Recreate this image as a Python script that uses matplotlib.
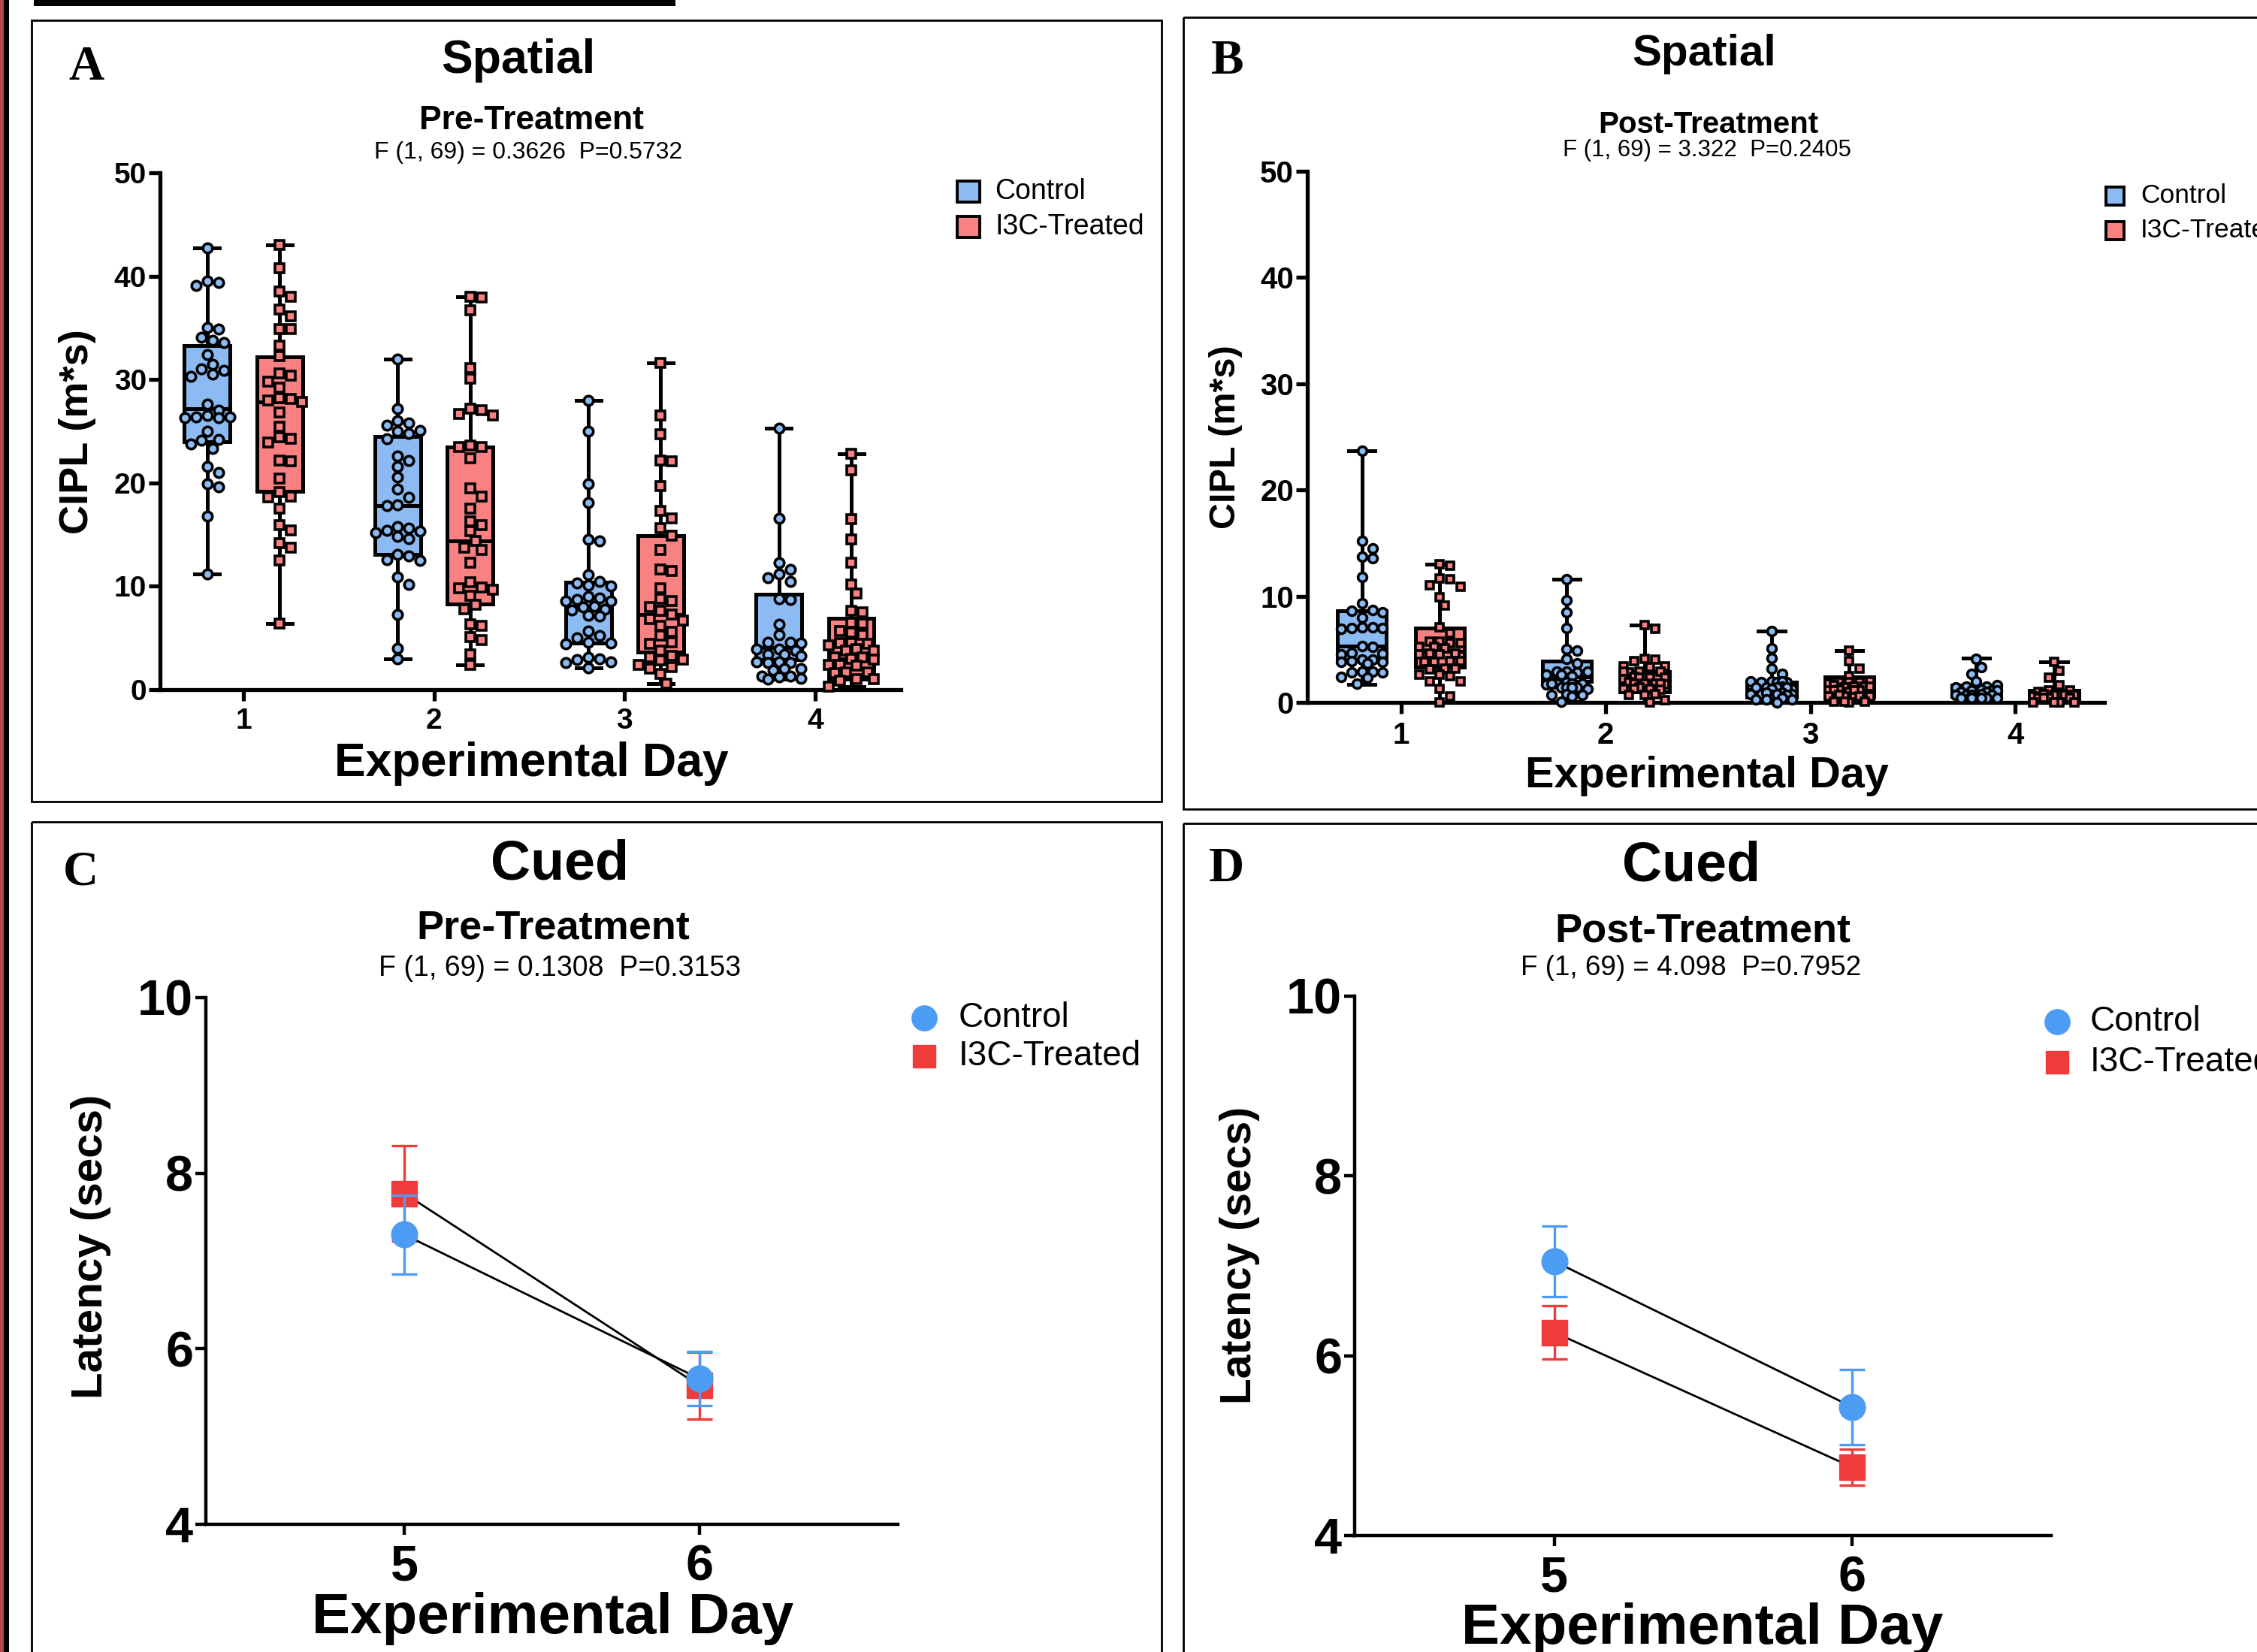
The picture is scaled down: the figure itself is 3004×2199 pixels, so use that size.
import numpy as np
import matplotlib
matplotlib.use("Agg")
import matplotlib.pyplot as plt
from matplotlib.patches import Rectangle

plt.rcParams['font.family'] = ['Liberation Sans', 'DejaVu Sans']

W, H = 3004, 2199

# ---------------- DATA ----------------
days_spatial = [1, 2, 3, 4]
days_cued = [5, 6]
groups = ["Control", "I3C-Treated"]

# Panel A (Spatial, Pre-Treatment) individual values
a_ctrl_d1 = [42.7, 39.5, 39.4, 39.1, 35.0, 34.9, 34.1, 33.8, 33.6, 32.4, 31.5, 31.0, 30.9, 30.5, 30.3,
             27.6, 27.0, 26.5, 26.4, 26.4, 26.3, 26.3, 25.0, 24.2, 24.1, 23.8, 23.3, 21.6, 21.0, 19.9,
             19.6, 16.8, 11.2]
a_trt_d1 = [43.0, 40.8, 38.5, 38.0, 36.8, 36.1, 34.9, 34.9, 33.3, 32.3, 30.6, 30.4, 29.8, 29.2, 28.2,
            28.1, 28.0, 27.8, 26.8, 25.4, 24.4, 24.3, 23.9, 22.2, 22.1, 20.4, 19.1, 18.7, 18.6, 17.5,
            15.9, 15.4, 14.2, 13.7, 12.5, 6.4]
a_ctrl_d2 = [32.0, 27.2, 26.0, 25.8, 25.6, 25.1, 25.0, 24.8, 24.3, 22.6, 22.2, 21.6, 20.6, 19.4, 18.6,
             17.9, 17.8, 15.8, 15.6, 15.4, 15.3, 15.2, 14.8, 14.6, 13.1, 12.9, 12.6, 12.5, 10.9, 10.2,
             7.3, 4.0, 3.0]
a_trt_d2 = [38.0, 37.9, 36.7, 31.1, 30.1, 27.2, 27.0, 26.7, 26.5, 23.6, 23.5, 23.5, 22.4, 19.5, 18.7,
            17.5, 16.3, 15.9, 15.3, 14.4, 13.7, 13.5, 12.3, 10.4, 9.9, 9.8, 9.7, 9.1, 8.2, 7.8,
            6.3, 6.2, 5.1, 4.8, 3.4, 2.4]
a_ctrl_d3 = [28.0, 25.0, 19.9, 18.1, 14.5, 14.4, 11.1, 10.5, 10.3, 10.1, 10.0, 9.0, 8.9, 8.7, 8.6,
             8.6, 8.1, 8.0, 7.8, 7.7, 7.2, 7.1, 5.7, 5.2, 5.0, 4.6, 4.5, 4.4, 3.1, 3.0,
             2.9, 2.7, 2.6, 2.1]
a_trt_d3 = [31.6, 26.5, 24.7, 22.2, 22.1, 19.7, 17.3, 16.6, 15.6, 14.9, 13.5, 11.6, 11.5, 9.8, 8.8,
            8.6, 8.0, 7.6, 7.3, 6.8, 6.7, 6.2, 5.6, 5.2, 4.6, 4.4, 3.8, 3.3, 3.1, 2.9,
            2.8, 2.4, 2.2, 2.0, 1.5, 0.6]
a_ctrl_d4 = [25.3, 16.6, 12.3, 11.6, 11.2, 10.8, 10.5, 8.8, 8.7, 6.3, 5.3, 4.6, 4.6, 4.5, 3.9,
             3.9, 3.8, 3.4, 3.4, 3.3, 2.7, 2.7, 2.6, 2.6, 2.0, 2.0, 1.9, 1.3, 1.3, 1.2,
             1.1, 1.0]
a_trt_d4 = [22.8, 21.2, 16.5, 14.5, 12.3, 10.2, 9.3, 7.6, 7.5, 6.5, 6.4, 5.7, 5.5, 5.3, 4.5,
            4.5, 4.4, 4.3, 3.9, 3.8, 3.8, 3.1, 3.1, 3.0, 2.9, 2.4, 2.4, 2.3, 1.7, 1.7,
            1.6, 1.0, 1.0, 0.9, 0.3]

# Panel A box statistics per day: min, q1, median, q3, max
a_ctrl_min = [11.2, 3.0, 2.1, 1.0]
a_ctrl_q1 = [24.0, 13.1, 4.5, 2.9]
a_ctrl_med = [27.2, 17.8, 8.1, 4.1]
a_ctrl_q3 = [33.3, 24.5, 10.4, 9.25]
a_ctrl_max = [42.7, 32.0, 28.0, 25.3]
a_trt_min = [6.4, 2.4, 0.6, 0.3]
a_trt_q1 = [19.2, 8.3, 3.6, 1.0]
a_trt_med = [27.8, 14.4, 7.3, 3.0]
a_trt_q3 = [32.2, 23.5, 14.9, 6.9]
a_trt_max = [43.0, 38.0, 31.6, 22.8]

# Panel B (Spatial, Post-Treatment) individual values
b_ctrl_d1 = [23.7, 15.2, 14.5, 13.7, 13.6, 11.8, 9.3, 8.7, 8.6, 8.5, 8.0, 7.1, 7.1, 7.0, 7.0,
             6.9, 5.3, 5.2, 4.7, 4.6, 4.5, 4.0, 4.0, 3.9, 3.8, 3.8, 3.7, 2.9, 2.9, 2.8,
             2.8, 2.4, 2.3, 1.8]
b_trt_d1 = [13.0, 12.9, 11.7, 11.6, 11.0, 10.9, 9.9, 9.1, 7.1, 6.5, 5.7, 5.7, 5.6, 5.6, 5.2,
            5.2, 5.1, 4.6, 4.6, 4.5, 4.5, 3.9, 3.9, 3.8, 3.8, 3.2, 3.2, 3.1, 2.6, 2.6,
            2.5, 2.0, 2.0, 1.3, 0.6, 0.0]
b_ctrl_d2 = [11.6, 9.6, 8.5, 7.0, 5.0, 4.9, 4.1, 3.7, 2.9, 2.9, 2.8, 2.9, 2.6, 2.6, 2.5,
             1.8, 1.8, 1.9, 1.7, 1.8, 1.8, 1.4, 1.4, 1.3, 1.4, 1.4, 0.7, 0.7, 0.8, 0.6, 0.1]
b_trt_d2 = [7.3, 6.9, 4.1, 4.0, 3.9, 3.4, 3.4, 3.3, 2.9, 2.9, 2.8, 2.9, 2.3, 2.3, 2.4,
            2.2, 2.3, 1.8, 1.8, 1.9, 1.7, 1.8, 1.8, 1.3, 1.3, 1.4, 1.2, 1.3, 0.7, 0.7,
            0.8, 0.2, 0.0]
b_ctrl_d3 = [6.7, 5.1, 4.2, 3.2, 2.7, 2.0, 1.9, 1.9, 2.0, 1.9, 2.0, 1.4, 1.4, 1.3, 1.5,
             1.4, 1.4, 1.3, 0.8, 0.8, 0.9, 0.7, 0.8, 0.8, 0.9, 0.7, 0.3, 0.3, 0.4, 0.3, 0.0]
b_trt_d3 = [4.9, 3.9, 3.2, 2.5, 1.9, 1.9, 2.0, 1.8, 1.9, 1.5, 1.5, 1.4, 1.6, 1.5, 1.1,
            1.1, 1.0, 1.2, 1.1, 1.1, 0.6, 0.6, 0.5, 0.7, 0.6, 0.6, 0.1, 0.1, 0.0, 0.1]
b_ctrl_d4 = [4.1, 3.3, 2.7, 1.95, 1.5, 1.5, 1.6, 1.4, 1.1, 1.1, 1.0, 1.2, 1.1, 1.1, 1.0,
             0.7, 0.7, 0.8, 0.6, 0.7, 0.7, 0.4, 0.4, 0.4, 0.4, 0.4]
b_trt_d4 = [3.8, 3.0, 2.3, 1.6, 1.1, 1.1, 1.0, 0.7, 0.7, 0.8, 0.6, 0.7, 0.7, 0.4, 0.4,
            0.4, 0.4, 0.0, 0.0, 0.0, 0.0]

b_ctrl_min = [1.7, 0.1, 0.0, 0.4]
b_ctrl_q1 = [4.0, 2.0, 0.5, 0.6]
b_ctrl_med = [5.3, 2.4, 1.2, 1.0]
b_ctrl_q3 = [8.6, 3.9, 1.9, 1.6]
b_ctrl_max = [23.7, 11.6, 6.7, 4.2]
b_trt_min = [0.0, 0.0, 0.0, 0.0]
b_trt_q1 = [3.3, 1.0, 0.5, 0.2]
b_trt_med = [4.8, 1.7, 1.1, 0.6]
b_trt_q3 = [7.0, 2.9, 2.4, 1.1]
b_trt_max = [13.0, 7.3, 4.9, 3.8]

# Panels C and D (Cued): mean latency and SEM
c_ctrl_mean = [7.30, 5.66]
c_ctrl_sem = [0.45, 0.31]
c_trt_mean = [7.77, 5.58]
c_trt_sem = [0.54, 0.38]
d_ctrl_mean = [7.05, 5.43]
d_ctrl_sem = [0.39, 0.42]
d_trt_mean = [6.26, 4.76]
d_trt_sem = [0.30, 0.20]

stats_A = "F (1, 69) = 0.3626  P=0.5732"
stats_B = "F (1, 69) = 3.322  P=0.2405"
stats_C = "F (1, 69) = 0.1308  P=0.3153"
stats_D = "F (1, 69) = 4.098  P=0.7952"

# ---------------- STYLE ----------------
BOX_BLUE = "#8cbaf3"
BOX_RED = "#f98181"
PT_BLUE = "#4d9cf3"
PT_RED = "#f03b3b"

fig = plt.figure(figsize=(W / 100, H / 100), dpi=100)
fig.patch.set_facecolor("white")

ov = fig.add_axes([0, 0, 1, 1], zorder=0)
ov.set_xlim(0, W)
ov.set_ylim(H, 0)
ov.axis("off")


def rect_px(x0, y0, x1, y1):
    return [x0 / W, 1 - y1 / H, (x1 - x0) / W, (y1 - y0) / H]


# decoration: left border, top bar, panel frames
ov.add_patch(Rectangle((0, 0), 5, H, color="#b5484a", lw=0, clip_on=False))
ov.add_patch(Rectangle((5, 0), 7, H, color="black", lw=0, clip_on=False))
ov.add_patch(Rectangle((45, 0), 854, 8, color="black", lw=0, clip_on=False))
for (x0, y0, x1, y1) in [(42, 27, 1546, 1067), (1575, 23, 3040, 1077),
                         (42, 1094, 1546, 2240), (1575, 1096, 3040, 2240)]:
    ov.add_patch(Rectangle((x0, y0), x1 - x0, y1 - y0, fill=False, ec="black", lw=2.0, clip_on=False))


def swarm(vals, xpx, ypx, diam, maxw):
    placed = []
    offs = []
    step = diam * 0.55
    kmax = int(maxw * xpx / step)
    cands = [0.0]
    for k in range(1, kmax + 1):
        cands += [k * step, -k * step]
    for v in vals:
        y = v * ypx
        best, bestd = 0.0, -1
        for c in cands:
            if placed:
                d = min(np.hypot(c - p[0], y - p[1]) for p in placed)
            else:
                d = 1e9
            if d >= diam:
                best = c
                break
            if d > bestd:
                bestd, best = d, c
        placed.append((best, y))
        offs.append(best / xpx)
    return offs


def style_axes(ax, lw, tl, tfs, xpad, ypad, xtl=None):
    for s in ["top", "right"]:
        ax.spines[s].set_visible(False)
    for s in ["left", "bottom"]:
        ax.spines[s].set_linewidth(lw)
    ax.patch.set_alpha(0)
    ax.tick_params(axis="both", direction="out", width=lw, length=tl, labelsize=tfs)
    ax.tick_params(axis="x", pad=xpad, length=xtl if xtl else tl)
    ax.tick_params(axis="y", pad=ypad)
    for lab in ax.get_xticklabels() + ax.get_yticklabels():
        lab.set_fontweight("bold")


def spatial_panel(rect, xlim, ctrl_vals, trt_vals, cst, tst, xpx, ypx, diam, ms_c, ms_s):
    ax = fig.add_axes(rect, zorder=2)
    ax.set_xlim(*xlim)
    ax.set_ylim(0, 50)
    for vals_list, st, off, face, mk, ms in [(ctrl_vals, cst, -0.19, BOX_BLUE, "o", ms_c),
                                               (trt_vals, tst, 0.19, BOX_RED, "s", ms_s)]:
        mins, q1s, meds, q3s, maxs = st
        bstats = [dict(whislo=mins[i], q1=q1s[i], med=meds[i], q3=q3s[i], whishi=maxs[i], fliers=[])
                  for i in range(4)]
        pos = [d + off for d in days_spatial]
        ax.bxp(bstats, positions=pos, widths=0.24, capwidths=0.13, patch_artist=True,
               manage_ticks=False, showfliers=False,
               boxprops=dict(facecolor=face, edgecolor="black", linewidth=3.6),
               whiskerprops=dict(color="black", linewidth=3.6),
               capprops=dict(color="black", linewidth=3.6),
               medianprops=dict(color="black", linewidth=3.6), zorder=2)
        for i, vals in enumerate(vals_list):
            offs = swarm(vals, xpx, ypx, diam, 0.12)
            ax.plot(np.array(pos[i]) + np.array(offs), vals, linestyle="none", marker=mk, ms=ms,
                    mfc=face, mec="black", mew=2.6, zorder=3, clip_on=False)
    ax.set_xticks(days_spatial)
    ax.set_yticks([0, 10, 20, 30, 40, 50])
    return ax


# ---------------- PANEL A ----------------
axA = spatial_panel(rect_px(213, 230, 1199, 918), (0.562, 4.45),
                    [a_ctrl_d1, a_ctrl_d2, a_ctrl_d3, a_ctrl_d4],
                    [a_trt_d1, a_trt_d2, a_trt_d3, a_trt_d4],
                    (a_ctrl_min, a_ctrl_q1, a_ctrl_med, a_ctrl_q3, a_ctrl_max),
                    (a_trt_min, a_trt_q1, a_trt_med, a_trt_q3, a_trt_max),
                    253.6, 13.76, 13.5, 9.0, 8.3)
style_axes(axA, 3.8, 11, 28, 6, 2)

# ---------------- PANEL B ----------------
axB = spatial_panel(rect_px(1740, 228, 2801, 935), (0.543, 4.436),
                    [b_ctrl_d1, b_ctrl_d2, b_ctrl_d3, b_ctrl_d4],
                    [b_trt_d1, b_trt_d2, b_trt_d3, b_trt_d4],
                    (b_ctrl_min, b_ctrl_q1, b_ctrl_med, b_ctrl_q3, b_ctrl_max),
                    (b_trt_min, b_trt_q1, b_trt_med, b_trt_q3, b_trt_max),
                    272.5, 14.14, 12.5, 8.5, 7.9)
style_axes(axB, 3.8, 11, 29, 7, 2)


# ---------------- PANELS C / D ----------------
def cued_panel(rect, xlim, cm, cs, tm, ts):
    ax = fig.add_axes(rect, zorder=2)
    ax.set_xlim(*xlim)
    ax.set_ylim(4, 10)
    ax.errorbar(days_cued, tm, yerr=ts, fmt="none", ecolor=PT_RED, elinewidth=2.4,
                capsize=12, capthick=2.4, zorder=2, clip_on=False)
    ax.plot(days_cued, tm, color="black", lw=2.0, zorder=2.5)
    ax.plot(days_cued, tm, linestyle="none", marker="s", ms=24, mfc=PT_RED, mec=PT_RED, zorder=3)
    ax.errorbar(days_cued, cm, yerr=cs, fmt="none", ecolor=PT_BLUE, elinewidth=2.4,
                capsize=12, capthick=2.4, zorder=4, clip_on=False)
    ax.plot(days_cued, cm, color="black", lw=2.0, zorder=4.5)
    ax.plot(days_cued, cm, linestyle="none", marker="o", ms=25, mfc=PT_BLUE, mec=PT_BLUE, zorder=5)
    ax.set_xticks(days_cued)
    ax.set_yticks([4, 6, 8, 10])
    return ax


axC = cued_panel(rect_px(274, 1328, 1195, 2029), (4.327, 6.673), c_ctrl_mean, c_ctrl_sem, c_trt_mean, c_trt_sem)
style_axes(axC, 3.2, 10, 48, 9, 2)
axD = cued_panel(rect_px(1803, 1326, 2730, 2044), (4.33, 6.667), d_ctrl_mean, d_ctrl_sem, d_trt_mean, d_trt_sem)
style_axes(axD, 3.2, 10, 48, 9, 2)

# ---------------- TEXT ----------------
def T(x, y, s, size, weight="bold", family=None, rot=0, ha="center", va="center"):
    kw = {}
    if family:
        kw["family"] = family
    ov.text(x, y, s, fontsize=size, fontweight=weight, rotation=rot, ha=ha, va=va, **kw)

SERIF = ["Liberation Serif", "DejaVu Serif"]
# panel letters
T(115, 90, "A", 47, family=SERIF)
T(1634, 82, "B", 47, family=SERIF)
T(107, 1161, "C", 47, family=SERIF)
T(1632, 1157, "D", 47, family=SERIF)

# panel A
T(690, 80, "Spatial", 45)
T(707, 161, "Pre-Treatment", 32)
T(703, 203, stats_A, 23, weight="normal")
T(103, 575, "CIPL (m*s)", 39, rot=90)
T(707, 1017, "Experimental Day", 45)
# panel B
T(2268, 72, "Spatial", 42)
T(2274, 166, "Post-Treatment", 29)
T(2272, 200, stats_B, 22.5, weight="normal")
T(1632, 582, "CIPL (m*s)", 35, rot=90)
T(2272, 1033, "Experimental Day", 41.5)
# panel C
T(745, 1151, "Cued", 53)
T(736, 1236, "Pre-Treatment", 39)
T(745, 1289, stats_C, 27, weight="normal")
T(121, 1659, "Latency (secs)", 42, rot=90)
T(736, 2155, "Experimental Day", 55)
# panel D
T(2251, 1153, "Cued", 53)
T(2266, 1240, "Post-Treatment", 39)
T(2251, 1289, stats_D, 26.6, weight="normal")
T(1650, 1671, "Latency (secs)", 41, rot=90)
T(2266, 2168, "Experimental Day", 55)

# ---------------- LEGENDS ----------------
# panel A
for yc, face, lab in [(255, BOX_BLUE, groups[0]), (302, BOX_RED, groups[1])]:
    ov.add_patch(Rectangle((1274, yc - 14), 30, 28, fc=face, ec="black", lw=2.8))
    T(1324, yc, lab, 27, weight="normal", ha="left")
# panel B
for yc, face, lab in [(261, BOX_BLUE, groups[0]), (307, BOX_RED, groups[1])]:
    ov.add_patch(Rectangle((2803, yc - 12), 24, 24, fc=face, ec="black", lw=2.8))
    T(2849, yc, lab, 25.5, weight="normal", ha="left")
# panel C
ov.plot([1230], [1355], marker="o", ms=24, color=PT_BLUE, linestyle="none")
ov.plot([1230], [1406], marker="s", ms=21, color=PT_RED, linestyle="none")
T(1276, 1355, groups[0], 33, weight="normal", ha="left")
T(1276, 1406, groups[1], 33, weight="normal", ha="left")
# panel D
ov.plot([2738], [1360], marker="o", ms=24, color=PT_BLUE, linestyle="none")
ov.plot([2738], [1414], marker="s", ms=21, color=PT_RED, linestyle="none")
T(2782, 1360, groups[0], 33, weight="normal", ha="left")
T(2782, 1414, groups[1], 33, weight="normal", ha="left")

fig.savefig("out.png", dpi=100)
